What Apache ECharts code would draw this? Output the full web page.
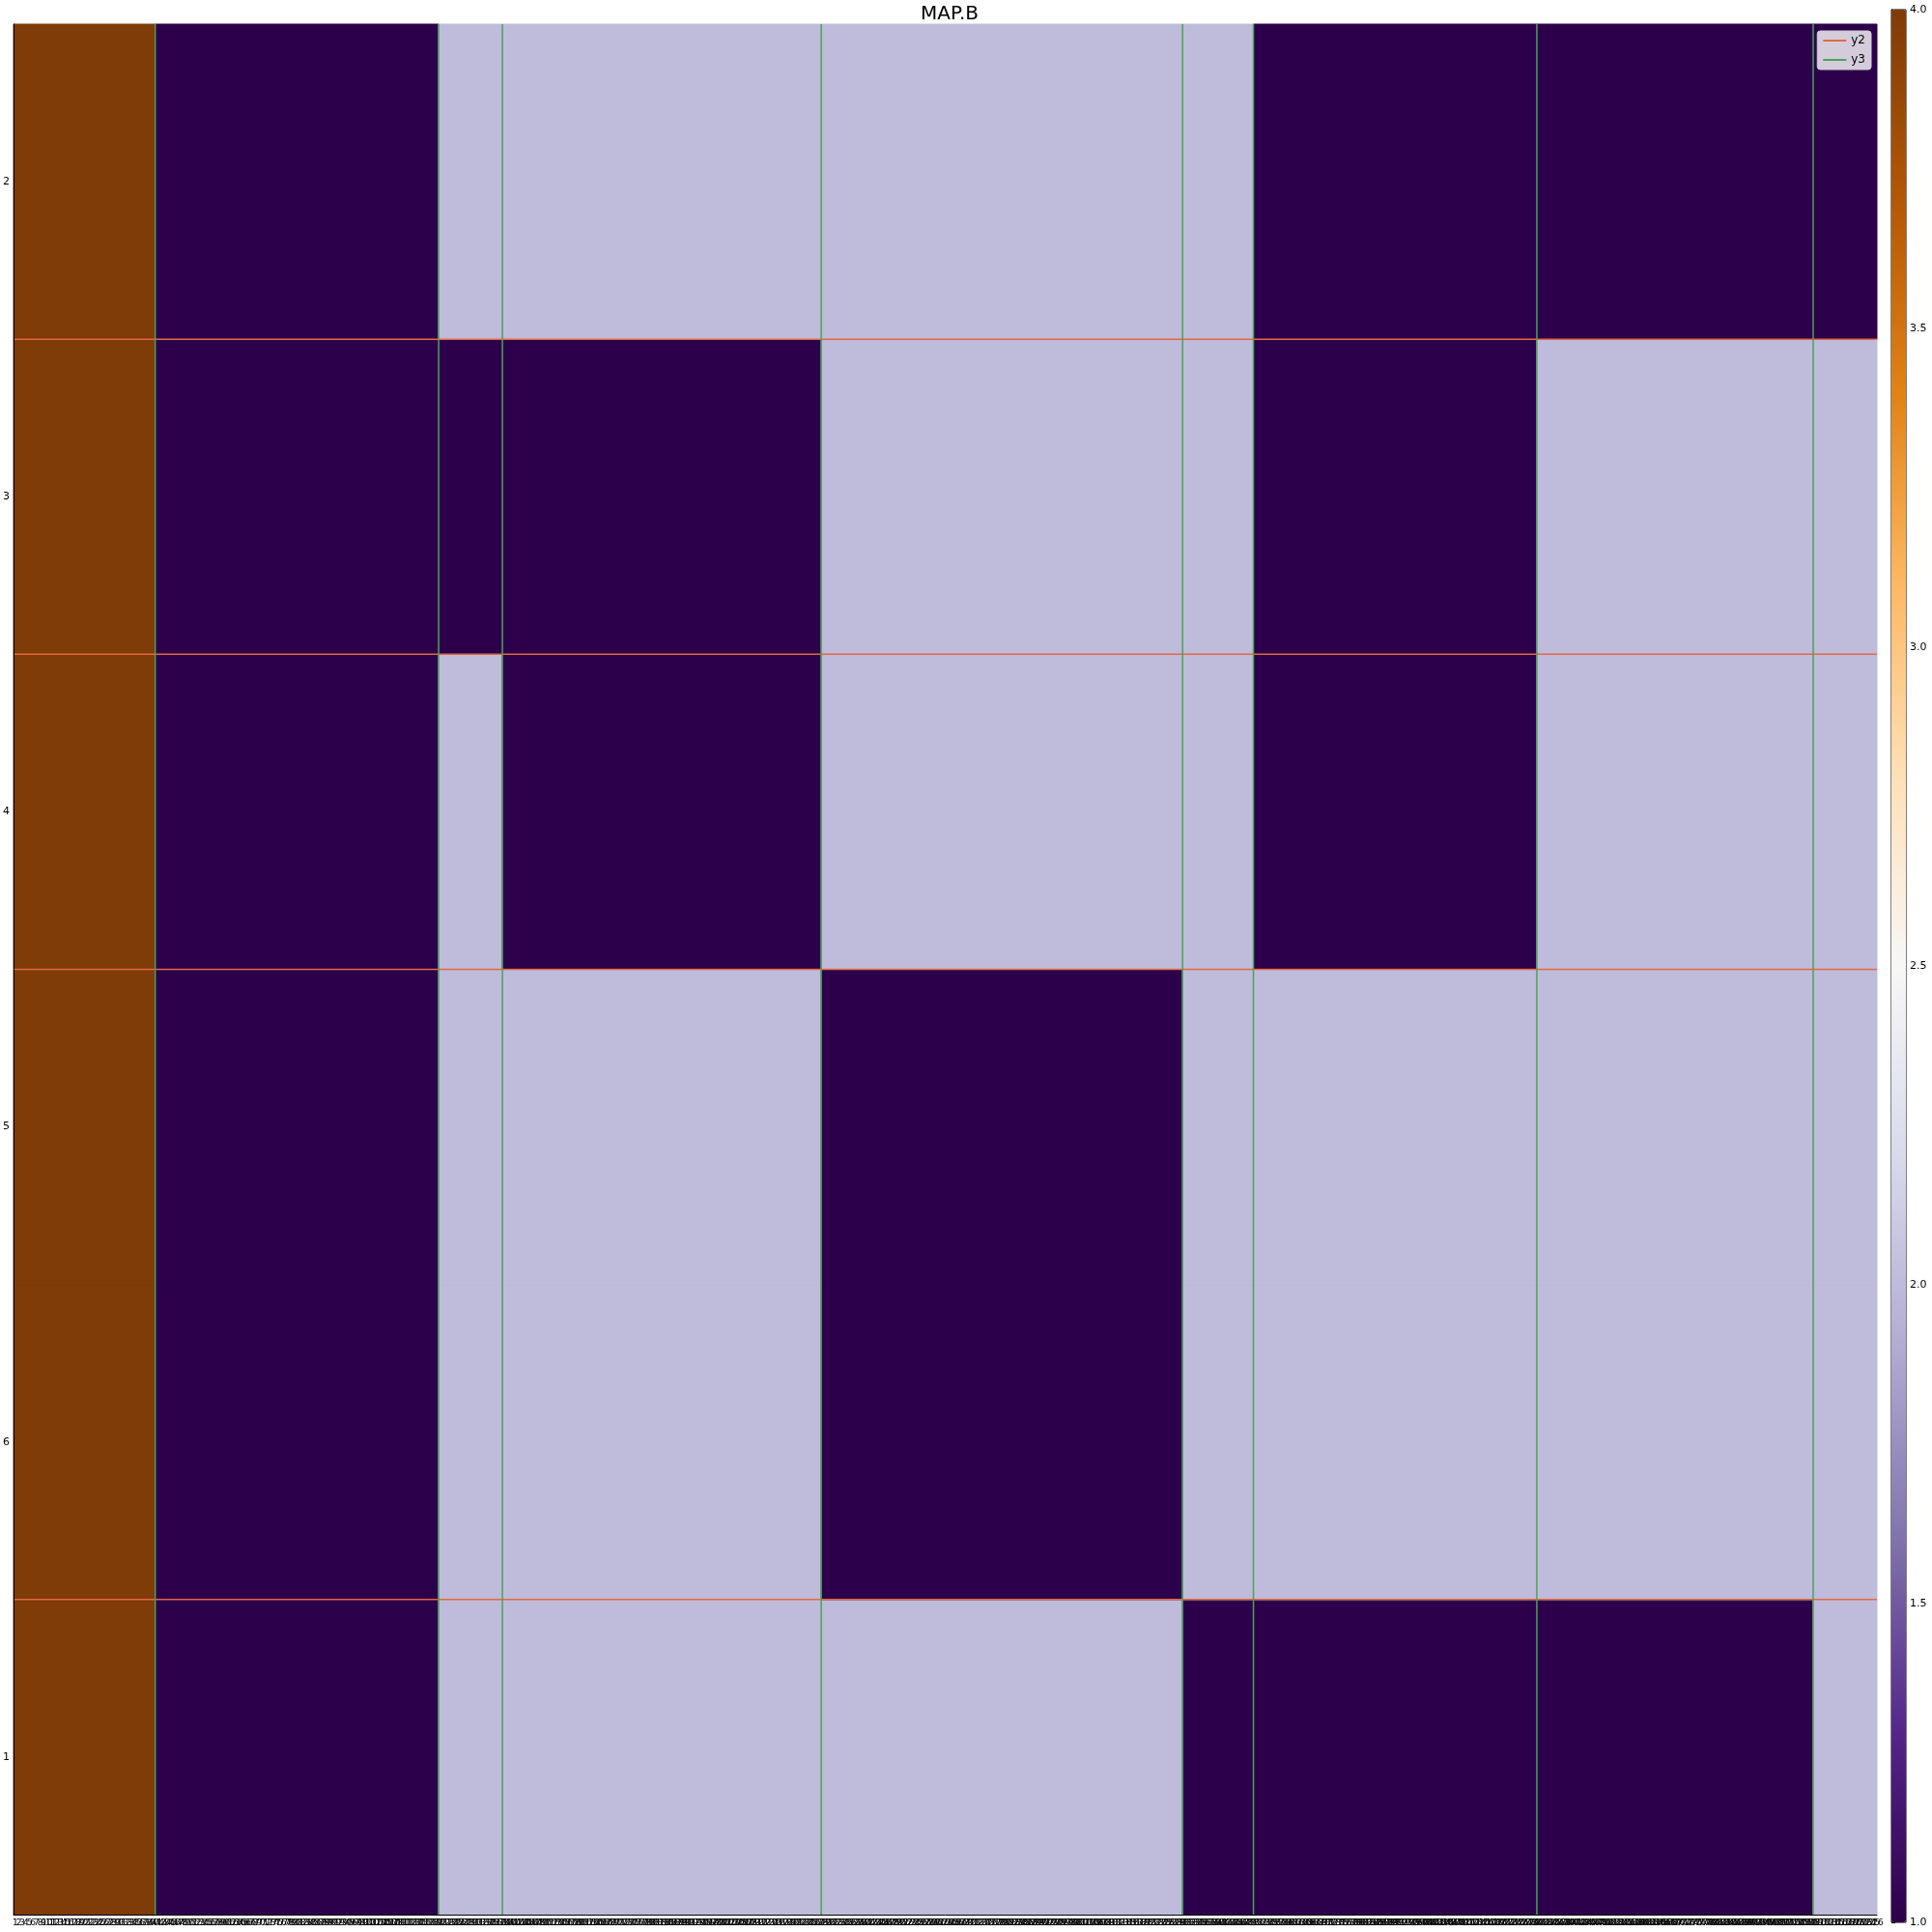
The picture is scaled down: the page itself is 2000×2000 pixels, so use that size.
<!DOCTYPE html>
<html>
<head>
<meta charset="utf-8">
<script src="https://cdn.jsdelivr.net/npm/echarts@6/dist/echarts.min.js"></script>
<style>
    html, body {margin: 0; padding: 0; background: #fff;}
    #map {width: 2000px; height: 2000px;}
</style>
</head>
<body>
<div id="map"></div>
<script>
// column blocks (number of x categories in each block)
const blockWidths = [40, 80, 18, 90, 102, 20, 80, 78, 18];
// y categories, bottom to top
const yLabels = ['1', '6', '5', '4', '3', '2'];
// value of each block, one array per row
const row1 = [4, 1, 2, 2, 2, 1, 1, 1, 2];
const row6 = [4, 1, 2, 2, 1, 2, 2, 2, 2];
const row5 = [4, 1, 2, 2, 1, 2, 2, 2, 2];
const row4 = [4, 1, 2, 1, 2, 2, 1, 2, 2];
const row3 = [4, 1, 1, 1, 2, 2, 1, 2, 2];
const row2 = [4, 1, 2, 2, 2, 2, 1, 1, 1];
// horizontal boundary lines (in row units from the bottom)
const y2Lines = [1, 3, 4, 5];

const puor = ['#2d004b', '#542788', '#8073ac', '#b2abd2', '#d8daeb', '#f7f7f7',
    '#fee0b6', '#fdb863', '#e08214', '#b35806', '#7f3b08'];

const rows = [row1, row6, row5, row4, row3, row2];
const nCols = blockWidths.reduce((a, b) => a + b, 0);

let xCats = [];
for (let i = 0; i < nCols; i++) xCats.push(String(i + 1));

// block edges
let edges = [0];
blockWidths.forEach(function (w) { edges.push(edges[edges.length - 1] + w); });
const y3Lines = edges.slice(1, -1);

let cells = [];
rows.forEach(function (row, yi) {
    row.forEach(function (v, b) {
        cells.push([edges[b], edges[b + 1], yi, v]);
    });
});

let series = [{
    type: 'custom',
    xAxisIndex: 1,
    yAxisIndex: 1,
    data: cells,
    encode: {x: [0, 1], y: 2},
    renderItem: function (params, api) {
        const p0 = api.coord([api.value(0), api.value(2) + 1]);
        const p1 = api.coord([api.value(1), api.value(2)]);
        const c = api.visual('color');
        return {
            type: 'rect',
            shape: {x: p0[0], y: p0[1], width: p1[0] - p0[0], height: p1[1] - p0[1]},
            style: {fill: c, stroke: c, lineWidth: 1}
        };
    }
}];
y2Lines.forEach(function (y) {
    series.push({
        name: 'y2', type: 'line', xAxisIndex: 1, yAxisIndex: 1,
        data: [[0, y], [nCols, y]], symbol: 'none', z: 5,
        lineStyle: {color: '#e4683f', width: 1.5}, color: '#e4683f'
    });
});
y3Lines.forEach(function (x) {
    series.push({
        name: 'y3', type: 'line', xAxisIndex: 1, yAxisIndex: 1,
        data: [[x, 0], [x, 6]], symbol: 'none', z: 5,
        lineStyle: {color: '#4aa35a', width: 1.5}, color: '#4aa35a'
    });
});

const chart = echarts.init(document.getElementById('map'));
chart.setOption({
    animation: false,
    textStyle: {fontFamily: 'DejaVu Sans'},
    title: {
        text: 'MAP.B', left: 978, textAlign: 'center', top: 0,
        textStyle: {fontSize: 20, fontWeight: 'normal', color: '#000'}
    },
    legend: {
        data: [{name: 'y2', icon: 'rect'}, {name: 'y3', icon: 'rect'}],
        orient: 'vertical', right: 63, top: 32,
        itemWidth: 24, itemHeight: 2, itemGap: 8,
        backgroundColor: 'rgba(255,255,255,0.8)', borderColor: '#ccc',
        borderWidth: 1, borderRadius: 3, padding: [4, 6],
        textStyle: {fontSize: 12, color: '#000'}
    },
    grid: [
        {left: 14, top: 25, right: 57, bottom: 18},
        {left: 1958, top: 10, width: 15, height: 1980, show: true,
            borderColor: '#000', borderWidth: 1, backgroundColor: 'transparent'}
    ],
    xAxis: [
        {type: 'category', data: xCats, gridIndex: 0, z: 6,
            axisLine: {lineStyle: {color: '#000'}}, axisTick: {show: false},
            axisLabel: {interval: 0, fontSize: 9, color: '#000', margin: 4}},
        {type: 'value', min: 0, max: nCols, gridIndex: 0, show: false},
        {type: 'value', gridIndex: 1, show: false}
    ],
    yAxis: [
        {type: 'category', data: yLabels, gridIndex: 0, z: 6,
            axisLine: {lineStyle: {color: '#000'}}, axisTick: {show: false},
            axisLabel: {fontSize: 11, color: '#000', margin: 4}},
        {type: 'value', min: 0, max: 6, gridIndex: 0, show: false},
        {type: 'value', gridIndex: 1, position: 'right', min: 1, max: 4, interval: 0.5,
            axisLine: {show: true, lineStyle: {color: '#000'}},
            axisTick: {show: true, length: 4, lineStyle: {color: '#000'}},
            splitLine: {show: false},
            axisLabel: {fontSize: 11, color: '#000', margin: 4,
                formatter: function (v) { return v.toFixed(1); }}}
    ],
    visualMap: {
        type: 'continuous', min: 1, max: 4, seriesIndex: 0, dimension: 3,
        left: 1958, top: 10, itemWidth: 15, itemHeight: 1980,
        padding: 0, calculable: false, text: null, showLabel: false,
        inRange: {color: puor}
    },
    series: series
});
</script>
</body>
</html>
